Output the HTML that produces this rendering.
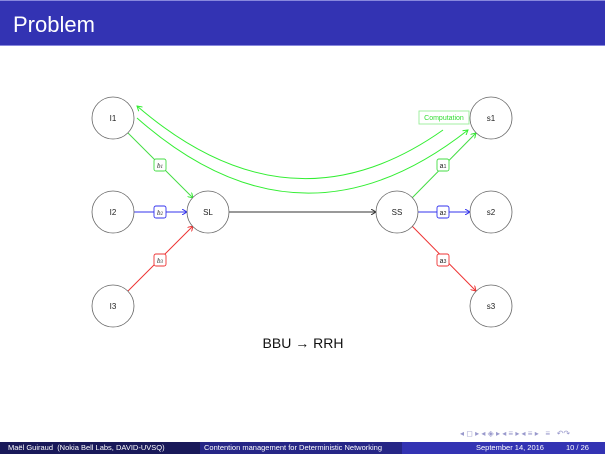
<!DOCTYPE html>
<html><head><style>
body{margin:0;width:605px;height:454px;overflow:hidden;background:#fff;font-family:"Liberation Sans",sans-serif;position:relative}
.hdr{position:absolute;left:0;top:0;width:605px;height:46px;background:#3333b3;border-top:1px solid #8888dd;border-bottom:1px solid #8888dd;box-sizing:border-box}
.hdr span{position:absolute;left:13px;top:11px;color:#fff;font-size:22px}
.ft{position:absolute;top:442px;height:12px;font-size:7.5px;color:#fff;line-height:12px}
</style></head><body>
<div class="hdr"><span>Problem</span></div>
<svg width="605" height="454" style="position:absolute;left:0;top:0" font-family="Liberation Sans, sans-serif">
<defs>
<marker id="ag" markerWidth="6" markerHeight="6" refX="5" refY="3" orient="auto"><path d="M0,0 L5,3 L0,6" fill="none" stroke="#33ee33" stroke-width="1"/></marker>
<marker id="ab" markerWidth="6" markerHeight="6" refX="5" refY="3" orient="auto"><path d="M0,0 L5,3 L0,6" fill="none" stroke="#3333ee" stroke-width="1"/></marker>
<marker id="ar" markerWidth="6" markerHeight="6" refX="5" refY="3" orient="auto"><path d="M0,0 L5,3 L0,6" fill="none" stroke="#ee3333" stroke-width="1"/></marker>
<marker id="ak" markerWidth="6" markerHeight="6" refX="5" refY="3" orient="auto"><path d="M0,0 L5,3 L0,6" fill="none" stroke="#333" stroke-width="1"/></marker>
</defs>
<g fill="none" stroke-width="1">
<line x1="128" y1="133" x2="193" y2="198" stroke="#44dd44" marker-end="url(#ag)"/>
<line x1="134" y1="212" x2="187" y2="212" stroke="#3333ee" marker-end="url(#ab)"/>
<line x1="128" y1="291" x2="193" y2="226" stroke="#ee3333" marker-end="url(#ar)"/>
<line x1="229" y1="212" x2="376" y2="212" stroke="#333" marker-end="url(#ak)"/>
<line x1="412" y1="198" x2="476" y2="133" stroke="#44dd44" marker-end="url(#ag)"/>
<line x1="418" y1="212" x2="470" y2="212" stroke="#3333ee" marker-end="url(#ab)"/>
<line x1="412" y1="226" x2="476" y2="291" stroke="#ee3333" marker-end="url(#ar)"/>
<path d="M443,130 Q290,238 137,106" stroke="#33ee33" marker-end="url(#ag)"/>
<path d="M137,118 Q300,262 468,130" stroke="#33ee33" marker-end="url(#ag)"/>
</g>
<g fill="#fff" stroke="#666" stroke-width="0.8">
<circle cx="113" cy="118" r="21"/><circle cx="113" cy="212" r="21"/><circle cx="113" cy="306" r="21"/>
<circle cx="208" cy="212" r="21"/><circle cx="397" cy="212" r="21"/>
<circle cx="491" cy="118" r="21"/><circle cx="491" cy="212" r="21"/><circle cx="491" cy="306" r="21"/>
</g>
<g font-size="8" fill="#222" text-anchor="middle">
<text x="113" y="121">I1</text><text x="113" y="215">I2</text><text x="113" y="309">I3</text>
<text x="208" y="215">SL</text><text x="397" y="215">SS</text>
<text x="491" y="121">s1</text><text x="491" y="215">s2</text><text x="491" y="309">s3</text>
</g>
<g fill="#fff" stroke-width="0.9">
<rect x="154" y="159" width="12" height="12" rx="2" stroke="#44dd44"/>
<rect x="154" y="206" width="12" height="12" rx="2" stroke="#3333ee"/>
<rect x="154" y="254" width="12" height="12" rx="2" stroke="#ee3333"/>
<rect x="437" y="159" width="12" height="12" rx="2" stroke="#44dd44"/>
<rect x="437" y="206" width="12" height="12" rx="2" stroke="#3333ee"/>
<rect x="437" y="254" width="12" height="12" rx="2" stroke="#ee3333"/>
<rect x="419" y="111" width="50" height="13" stroke="#99ee99"/>
</g>
<g font-size="7" fill="#222" text-anchor="middle">
<text x="160" y="168" font-style="italic" font-family="Liberation Serif">b<tspan font-size="5">1</tspan></text>
<text x="160" y="215" font-style="italic" font-family="Liberation Serif">b<tspan font-size="5">2</tspan></text>
<text x="160" y="263" font-style="italic" font-family="Liberation Serif">b<tspan font-size="5">3</tspan></text>
<text x="443" y="168">a<tspan font-size="5">1</tspan></text>
<text x="443" y="215">a<tspan font-size="5">2</tspan></text>
<text x="443" y="263">a<tspan font-size="5">3</tspan></text>
<text x="444" y="120" fill="#33dd33">Computation</text>
</g>
<text x="303" y="348" font-size="14" text-anchor="middle" fill="#111">BBU → RRH</text>
<text x="460" y="436" font-size="8" fill="#9999cc">◂ ◻ ▸ ◂ ◈ ▸ ◂ ≡ ▸ ◂ ≡ ▸ &#160; ≡ &#160; ↶↷</text>
</svg>
<div class="ft" style="left:0;width:200px;background:#191959;padding-left:8px;box-sizing:border-box">Maël Guiraud &#160;(Nokia Bell Labs, DAVID-UVSQ)</div>
<div class="ft" style="left:200px;width:202px;background:#262686;padding-left:4px;box-sizing:border-box">Contention management for Deterministic Networking</div>
<div class="ft" style="left:402px;width:203px;background:#3333b3;"><span style="position:absolute;left:74px">September 14, 2016</span><span style="position:absolute;left:164px">10 / 26</span></div>
</body></html>
